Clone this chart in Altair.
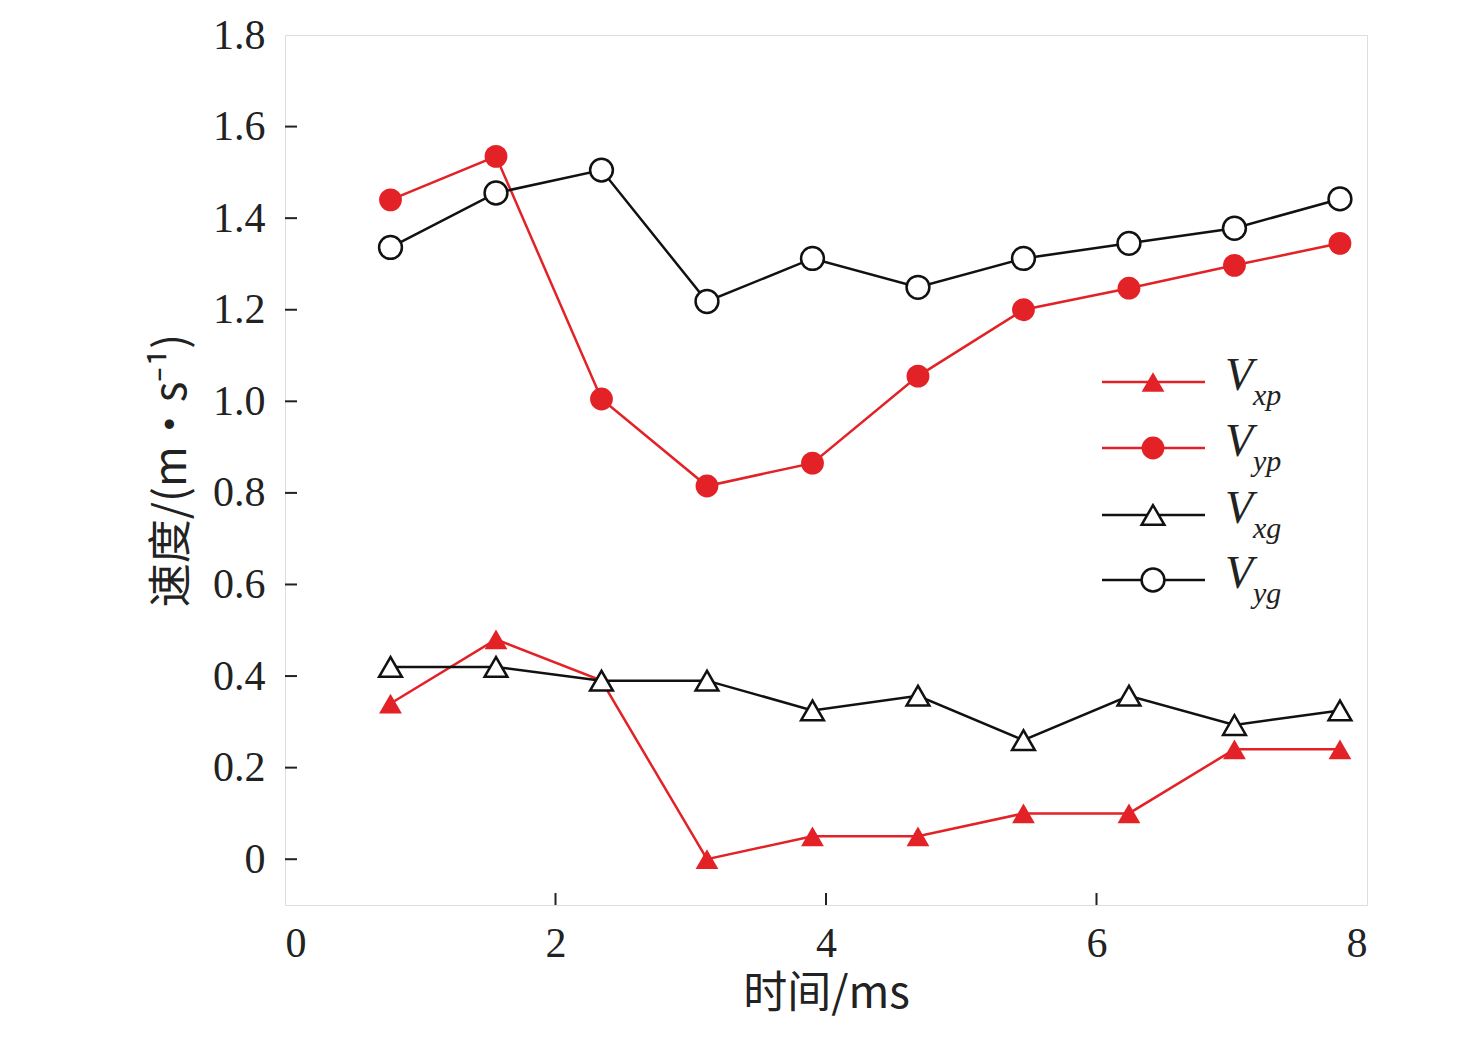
import altair as alt
import pandas as pd

t = [0.78, 1.56, 2.34, 3.12, 3.90, 4.68, 5.46, 6.24, 7.02, 7.80]
vxp = [0.34, 0.48, 0.39, 0.00, 0.05, 0.05, 0.10, 0.10, 0.24, 0.24]
vyp = [1.44, 1.535, 1.005, 0.815, 0.865, 1.055, 1.20, 1.247, 1.297, 1.345]
vxg = [0.42, 0.42, 0.39, 0.39, 0.325, 0.357, 0.26, 0.357, 0.293, 0.325]
vyg = [1.336, 1.455, 1.505, 1.218, 1.312, 1.249, 1.312, 1.345, 1.378, 1.442]
xticks = [2, 4, 6]
yticks = [0, 0.2, 0.4, 0.6, 0.8, 1.0, 1.2, 1.4, 1.6]

RED = "#e32227"
BLK = "#111111"
series = [
    ("Vxp", vxp, "triangle-up", RED, True),
    ("Vyp", vyp, "circle", RED, True),
    ("Vxg", vxg, "triangle-up", BLK, False),
    ("Vyg", vyg, "circle", BLK, False),
]
subs = ["xp", "yp", "xg", "yg"]

xs = alt.Scale(domain=[0, 8], nice=False)
ys = alt.Scale(domain=[-0.1, 1.8], nice=False)
FONT = "Liberation Serif"

xaxis = alt.Axis(title="时间/ms", values=[0, 2, 4, 6, 8], format="d",
                 grid=False, ticks=False, labelPadding=18,
                 labelFontSize=42, titleFontSize=44, titleFont="Noto Sans CJK SC",
                 labelFont=FONT, titlePadding=8, domain=False, labelColor="#222",
                 titleColor="#222", titleFontWeight="normal")
yaxis = alt.Axis(title="速度/(m·s⁻¹)", values=[0, 0.2, 0.4, 0.6, 0.8, 1.0, 1.2, 1.4, 1.6, 1.8],
                 labelExpr="datum.value==0?'0':format(datum.value,'.1f')",
                 grid=False, ticks=False, labelPadding=20, labelFontSize=42,
                 titleFontSize=44, titleFont="Noto Sans CJK SC", labelFont=FONT,
                 titlePadding=18, domain=False, labelColor="#222", titleColor="#222",
                 titleFontWeight="normal")

layers = []
# inward ticks
xt = pd.DataFrame({"x": xticks, "y0": [-0.1] * 3, "y1": [-0.1 + 12 / 457.0] * 3})
layers.append(alt.Chart(xt).mark_rule(color="#222", strokeWidth=2).encode(
    x=alt.X("x:Q", scale=xs, axis=xaxis), y=alt.Y("y0:Q", scale=ys, axis=yaxis), y2="y1"))
yt = pd.DataFrame({"y": yticks, "x0": [0] * len(yticks), "x1": [12 / 135.25] * len(yticks)})
layers.append(alt.Chart(yt).mark_rule(color="#222", strokeWidth=2).encode(
    x=alt.X("x0:Q", scale=xs), x2="x1", y=alt.Y("y:Q", scale=ys)))

for i, (name, vals, shape, col, filled) in enumerate(series):
    df = pd.DataFrame({"t": t, "v": vals})
    base = alt.Chart(df)
    enc = dict(x=alt.X("t:Q", scale=xs), y=alt.Y("v:Q", scale=ys))
    layers.append(base.mark_line(color=col, strokeWidth=2.5).encode(**enc))
    layers.append(base.mark_point(shape=shape, size=520, filled=filled, fill=col if filled else "white",
                                  color=col, strokeWidth=2.5, opacity=1).encode(**enc))
    ly = [347, 413, 480, 545][i]
    lb = alt.Chart(pd.DataFrame({"a": [0]}))
    layers.append(lb.mark_rule(color=col, strokeWidth=2.5).encode(
        x=alt.value(817), x2=alt.value(920), y=alt.value(ly)))
    layers.append(lb.mark_point(shape=shape, size=520, filled=filled, fill=col if filled else "white",
                                color=col, strokeWidth=2.5, opacity=1).encode(x=alt.value(868), y=alt.value(ly)))
    layers.append(lb.mark_text(text="V", font=FONT, fontStyle="italic", fontSize=46, align="left",
                               baseline="middle", color="#222").encode(x=alt.value(940), y=alt.value(ly - 6)))
    layers.append(lb.mark_text(text=subs[i], font=FONT, fontStyle="italic", fontSize=30, align="left",
                               baseline="middle", color="#222").encode(x=alt.value(968), y=alt.value(ly + 14)))

chart = alt.layer(*layers).properties(
    width=1082, height=870, autosize="none",
    padding={"left": 277, "top": 27, "right": 101, "bottom": 140},
).configure_view(stroke="#222", strokeWidth=2.5).configure(background="white")

chart.save("out.html", embed_options={"renderer": "svg", "actions": False})
